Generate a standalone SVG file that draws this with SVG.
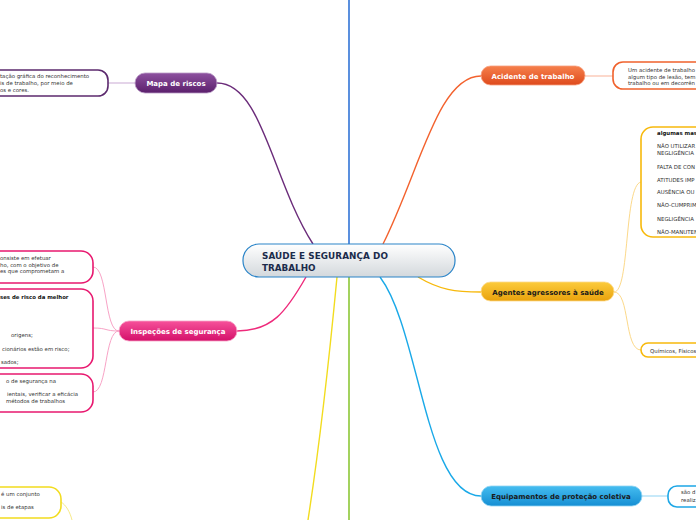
<svg xmlns="http://www.w3.org/2000/svg" width="696" height="520" viewBox="0 0 696 520">
<defs>
<linearGradient id="gC" x1="0" y1="0" x2="0" y2="1"><stop offset="0" stop-color="#ffffff"/><stop offset="1" stop-color="#d3d8dc"/></linearGradient>
<linearGradient id="gP" x1="0" y1="0" x2="0" y2="1"><stop offset="0" stop-color="#8d519f"/><stop offset="1" stop-color="#5b1f6c"/></linearGradient>
<linearGradient id="gO" x1="0" y1="0" x2="0" y2="1"><stop offset="0" stop-color="#f6804c"/><stop offset="1" stop-color="#de4a1c"/></linearGradient>
<linearGradient id="gG" x1="0" y1="0" x2="0" y2="1"><stop offset="0" stop-color="#fccb3c"/><stop offset="1" stop-color="#e9a20c"/></linearGradient>
<linearGradient id="gB" x1="0" y1="0" x2="0" y2="1"><stop offset="0" stop-color="#45bdf0"/><stop offset="1" stop-color="#158ed3"/></linearGradient>
<linearGradient id="gK" x1="0" y1="0" x2="0" y2="1"><stop offset="0" stop-color="#f6519a"/><stop offset="1" stop-color="#d4106a"/></linearGradient>
</defs>
<style>
text{font-family:"DejaVu Sans","Verdana",sans-serif;}
.nt{font-size:7px;font-weight:bold;fill:#fff;text-anchor:middle;}
.nd{font-size:7px;font-weight:bold;fill:#1a1a1a;text-anchor:middle;}
.ct{font-size:5.4px;fill:#333;}
.cb{font-size:5.4px;fill:#111;font-weight:bold;}
.box{fill:#fff;stroke-width:1.6;}
.ln{fill:none;stroke-width:1.4;}
.sl{fill:none;stroke-width:1;}
</style>
<g id="connectors">
<path class="ln" d="M349,0 L349,244" stroke="#1560d0" stroke-width="2"/>
<path class="ln" d="M349,277 L349,520" stroke="#7cbf1a" stroke-width="2"/>
<path class="ln" d="M337,277 C331,340 322,430 308,520" stroke="#f2dc1e"/>
<path class="ln" d="M217,83 C262,83 272,180 313,244" stroke="#6b2c7a"/>
<path class="ln" d="M481,76 C438,76 420,170 383,244" stroke="#f3622e"/>
<path class="ln" d="M306,277 C286,312 272,331 237,331" stroke="#ee2a7b"/>
<path class="ln" d="M418,277 C440,290 455,292 481,292" stroke="#f7b90c"/>
<path class="ln" d="M380,277 C420,330 425,496 481,496" stroke="#1aa9e8"/>
<path class="sl" d="M135,83 L108,83" stroke="#c9a9d3"/>
<path class="sl" d="M585,76 L613,76" stroke="#f9b197"/>
<path class="sl" d="M614,292 C630,292 624,185 641,182" stroke="#fcd98a"/>
<path class="sl" d="M614,292 C630,292 624,350 641,350" stroke="#fcd98a"/>
<path class="sl" d="M642,496 L668,496" stroke="#8fd3f3"/>
<path class="sl" d="M119,331 C104,331 108,267 93,267" stroke="#f8a3c6"/>
<path class="sl" d="M119,331 C104,331 108,328 93,328" stroke="#f8a3c6"/>
<path class="sl" d="M119,331 C104,331 108,392 93,392" stroke="#f8a3c6"/>
<path class="sl" d="M61,502 C66,505 70,512 72,520" stroke="#f7ea8a"/>
</g>
<g id="central">
<rect x="243" y="244" width="212" height="33" rx="16" fill="url(#gC)" stroke="#2a84c8" stroke-width="1.2"/>
<text x="262" y="259" font-size="8.8" font-weight="bold" fill="#1b2b4b" textLength="126">SAÚDE E SEGURANÇA DO</text>
<text x="262" y="271" font-size="8.8" font-weight="bold" fill="#1b2b4b">TRABALHO</text>
</g>
<g id="mapa">
<rect x="135" y="73" width="82" height="20" rx="10" fill="url(#gP)" stroke="#b99ac5" stroke-width="0.8"/>
<text class="nt" x="176" y="86">Mapa de riscos</text>
</g>
<g id="mapa-desc">
<rect class="box" x="-60" y="70" width="168" height="26" rx="10" stroke="#5c2a6e"/>
<text class="ct" x="0" y="78">tação gráfica do reconhecimento</text>
<text class="ct" x="0" y="85">is de trabalho, por meio de</text>
<text class="ct" x="0" y="92">os e cores.</text>
</g>
<g id="acidente">
<rect x="481" y="66" width="104" height="19" rx="9.5" fill="url(#gO)" stroke="#f7a07e" stroke-width="0.8"/>
<text class="nt" x="533" y="79">Acidente de trabalho</text>
</g>
<g id="acidente-desc">
<rect class="box" x="613" y="62" width="120" height="27" rx="10" stroke="#f0622d"/>
<text class="ct" x="628" y="72">Um acidente de trabalho</text>
<text class="ct" x="628" y="78.5">algum tipo de lesão, tem</text>
<text class="ct" x="628" y="85">trabalho ou em decorrên</text>
</g>
<g id="agentes">
<rect x="481" y="282" width="133" height="19" rx="9.5" fill="url(#gG)" stroke="#fcd98a" stroke-width="0.8"/>
<text class="nd" x="548" y="295">Agentes agressores à saúde</text>
</g>
<g id="agentes-lista">
<rect class="box" x="641" y="127" width="100" height="110" rx="12" stroke="#f7b90c" stroke-width="1.8"/>
<text class="cb" x="657" y="135">algumas mas</text>
<text class="ct" x="657" y="148">NÃO UTILIZAR</text>
<text class="ct" x="657" y="155">NEGLIGÊNCIA</text>
<text class="ct" x="657" y="168.5">FALTA DE CON</text>
<text class="ct" x="657" y="181.5">ATITUDES IMP</text>
<text class="ct" x="657" y="194">AUSÊNCIA OU</text>
<text class="ct" x="657" y="207">NÃO-CUMPRIM</text>
<text class="ct" x="657" y="220.5">NEGLIGÊNCIA</text>
<text class="ct" x="657" y="233.5">NÃO-MANUTEN</text>
</g>
<g id="agentes-quimicos">
<rect class="box" x="641" y="343" width="100" height="14" rx="7" stroke="#f7b90c" stroke-width="1.3"/>
<text class="ct" x="650" y="353">Químicos, Físicos</text>
</g>
<g id="equipamentos">
<rect x="481" y="486" width="161" height="20" rx="10" fill="url(#gB)" stroke="#8fd3f3" stroke-width="0.8"/>
<text class="nd" x="561" y="499">Equipamentos de proteção coletiva</text>
</g>
<g id="equipamentos-desc">
<rect class="box" x="668" y="486" width="60" height="21" rx="9" stroke="#1ea7e6"/>
<text class="ct" x="681" y="494">são d</text>
<text class="ct" x="681" y="501.5">realiz</text>
</g>
<g id="inspecoes">
<rect x="119" y="321" width="118" height="20" rx="10" fill="url(#gK)" stroke="#f8a3c6" stroke-width="0.8"/>
<text class="nt" x="178" y="334">Inspeções de segurança</text>
</g>
<g id="inspecoes-1">
<rect class="box" x="-60" y="251" width="153" height="32" rx="12" stroke="#e8186f"/>
<text class="ct" x="0" y="260">onsiste em efetuar</text>
<text class="ct" x="0" y="266.5">ho, com o objetivo de</text>
<text class="ct" x="0" y="273">es que comprometam a</text>
</g>
<g id="inspecoes-2">
<rect class="box" x="-60" y="289" width="153" height="79" rx="12" stroke="#e8186f"/>
<text class="cb" x="0" y="299">ses de risco da melhor</text>
<text class="ct" x="11" y="337">origens;</text>
<text class="ct" x="2" y="351">cionários estão em risco;</text>
<text class="ct" x="1" y="363.5">sados;</text>
</g>
<g id="inspecoes-3">
<rect class="box" x="-60" y="374" width="153" height="38" rx="12" stroke="#e8186f"/>
<text class="ct" x="6" y="383">o de segurança na</text>
<text class="ct" x="7" y="396">ientais, verificar a eficácia</text>
<text class="ct" x="6" y="402.5">métodos de trabalhos</text>
</g>
<g id="yellow-desc">
<rect class="box" x="-60" y="487" width="121" height="31" rx="12" stroke="#f2dc1e" stroke-width="1.8"/>
<text class="ct" x="1" y="496">é um conjunto</text>
<text class="ct" x="1" y="509">is de etapas</text>
</g>
</svg>
